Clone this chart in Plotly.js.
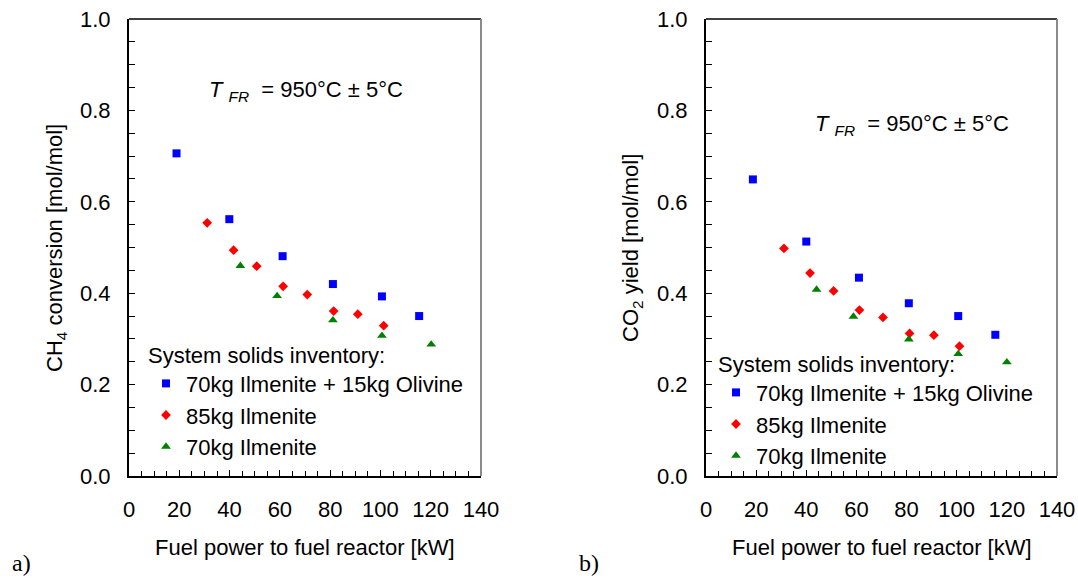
<!DOCTYPE html>
<html>
<head>
<meta charset="utf-8">
<script src="https://cdn.plot.ly/plotly-3.0.1.min.js"></script>
<style>html,body{margin:0;padding:0;background:#fff;} #chart{width:1078px;height:578px;}</style>
</head>
<body>
<div id="chart"></div>
<script>
// ---- Data ----
const seriesNames = ["70kg Ilmenite + 15kg Olivine", "85kg Ilmenite", "70kg Ilmenite"];

// Panel a) CH4 conversion
const olivineX_a = [18.9, 39.9, 61.1, 81.1, 100.6, 115.4];
const olivineY_a = [0.706, 0.562, 0.481, 0.420, 0.393, 0.350];
const ilm85X_a = [31.1, 41.6, 50.8, 61.3, 70.9, 81.4, 91.0, 101.3];
const ilm85Y_a = [0.554, 0.494, 0.459, 0.415, 0.397, 0.361, 0.354, 0.329];
const ilm70X_a = [44.3, 58.9, 81.1, 100.6, 120.2];
const ilm70Y_a = [0.460, 0.394, 0.341, 0.307, 0.288];

// Panel b) CO2 yield
const olivineX_b = [18.7, 40.0, 61.0, 80.9, 100.6, 115.4];
const olivineY_b = [0.649, 0.513, 0.434, 0.378, 0.350, 0.309];
const ilm85X_b = [31.1, 41.5, 50.9, 61.2, 70.6, 81.2, 90.9, 101.1];
const ilm85Y_b = [0.498, 0.444, 0.405, 0.363, 0.347, 0.312, 0.308, 0.284];
const ilm70X_b = [44.1, 58.8, 80.9, 100.6, 120.0];
const ilm70Y_b = [0.408, 0.349, 0.299, 0.267, 0.249];

const xTitle = "Fuel power to fuel reactor [kW]";
const yTitleA = "CH<sub>4</sub> conversion [mol/mol]";
const yTitleB = "CO<sub>2</sub> yield [mol/mol]";
const legendTitle = "System solids inventory:";
const tempNote = "<i>T</i> <sub><i>FR</i></sub>  = 950°C ± 5°C";

// ---- Styles ----
const FONT = "Liberation Sans, Arial, sans-serif";
const styles = [
  {symbol: "square", size: 8, color: "#0000FF"},
  {symbol: "diamond", size: 7.5, color: "#FF0000"},
  {symbol: "triangle-up", size: 8.5, color: "#008000"}
];

function mk(x, y, i, xa, ya, leg) {
  return {
    x: x, y: y, type: "scatter", mode: "markers", name: seriesNames[i],
    xaxis: xa, yaxis: ya, legend: leg, legendgroup: leg + i,
    marker: {symbol: styles[i].symbol, size: styles[i].size, color: styles[i].color, line: {width: 0}},
    hoverinfo: "x+y"
  };
}

const traces = [
  mk(olivineX_a, olivineY_a, 0, "x", "y", "legend"),
  mk(ilm85X_a, ilm85Y_a, 1, "x", "y", "legend"),
  mk(ilm70X_a, ilm70Y_a, 2, "x", "y", "legend"),
  mk(olivineX_b, olivineY_b, 0, "x2", "y2", "legend2"),
  mk(ilm85X_b, ilm85Y_b, 1, "x2", "y2", "legend2"),
  mk(ilm70X_b, ilm70Y_b, 2, "x2", "y2", "legend2")
];

const W = 1078, H = 578;
const px = v => v / W;
const py = v => (H - v) / H;

function xAxis(dom, anchor) {
  return {
    domain: dom, anchor: anchor, range: [0, 140], dtick: 20, tick0: 0,
    showgrid: false, zeroline: false, showline: true, linecolor: "#000", linewidth: 2,
    ticks: "inside", ticklen: 6, tickwidth: 1, tickcolor: "#000",
    minor: {dtick: 5, ticks: "inside", ticklen: 5, tickwidth: 1, tickcolor: "#000", showgrid: false},
    tickfont: {family: FONT, size: 22, color: "#000"},
    ticklabelstandoff: 13, ticklabeloverflow: "allow", fixedrange: true
  };
}
function yAxis(dom, anchor) {
  return {
    domain: dom, anchor: anchor, range: [0, 1], dtick: 0.2, tick0: 0, tickformat: ".1f",
    showgrid: false, zeroline: false, showline: true, linecolor: "#000", linewidth: 2,
    ticks: "inside", ticklen: 6, tickwidth: 1, tickcolor: "#000",
    minor: {dtick: 0.05, ticks: "inside", ticklen: 6, tickwidth: 1, tickcolor: "#000", showgrid: false},
    tickfont: {family: FONT, size: 22, color: "#000"},
    ticklabelstandoff: 12, fixedrange: true
  };
}

const xdA = [px(129), px(481)], xdB = [px(706), px(1057)];
const yd = [py(476), py(19)];

function frameShapes(xr, yr) {
  return [
    {type: "line", xref: xr + " domain", yref: yr + " domain", x0: 0, x1: 1, y0: 1, y1: 1, line: {color: "#000", width: 1.5}},
    {type: "line", xref: xr + " domain", yref: yr + " domain", x0: 1, x1: 1, y0: 0, y1: 1, line: {color: "#8a8a8a", width: 2}}
  ];
}

function ann(text, x, y, opts) {
  return Object.assign({text: text, xref: "paper", yref: "paper", x: px(x), y: py(y),
    showarrow: false, xanchor: "center", yanchor: "middle",
    font: {family: FONT, size: 22, color: "#000"}}, opts || {});
}

const layout = {
  width: W, height: H, margin: {l: 0, r: 0, t: 0, b: 0},
  paper_bgcolor: "#fff", plot_bgcolor: "#fff",
  font: {family: FONT, size: 22, color: "#000"},
  showlegend: true,
  xaxis: xAxis(xdA, "y"), yaxis: yAxis(yd, "x"),
  xaxis2: xAxis(xdB, "y2"), yaxis2: yAxis(yd, "x2"),
  legend: {
    x: px(146), y: py(334), xanchor: "left", yanchor: "top", xref: "paper", yref: "paper",
    bgcolor: "rgba(0,0,0,0)", borderwidth: 0, traceorder: "grouped", tracegroupgap: 0,
    title: {text: legendTitle, font: {family: FONT, size: 22, color: "#000"}},
    font: {family: FONT, size: 22, color: "#000"}, itemclick: false, itemdoubleclick: false
  },
  legend2: {
    x: px(716), y: py(343), xanchor: "left", yanchor: "top", xref: "paper", yref: "paper",
    bgcolor: "rgba(0,0,0,0)", borderwidth: 0, traceorder: "grouped", tracegroupgap: 0,
    title: {text: legendTitle, font: {family: FONT, size: 22, color: "#000"}},
    font: {family: FONT, size: 22, color: "#000"}, itemclick: false, itemdoubleclick: false
  },
  shapes: frameShapes("x", "y").concat(frameShapes("x2", "y2")),
  annotations: [
    ann(xTitle, 305, 547),
    ann(xTitle, 882, 547),
    ann(yTitleA, 56, 248, {textangle: -90}),
    ann(yTitleB, 632, 248, {textangle: -90}),
    ann(tempNote, 306, 91),
    ann(tempNote, 912, 125),
    ann("a)", 21, 563, {font: {family: "Liberation Serif, Times New Roman, serif", size: 24, color: "#000"}}),
    ann("b)", 589, 563, {font: {family: "Liberation Serif, Times New Roman, serif", size: 24, color: "#000"}})
  ]
};

Plotly.newPlot("chart", traces, layout, {displayModeBar: false, staticPlot: false});
</script>
</body>
</html>
